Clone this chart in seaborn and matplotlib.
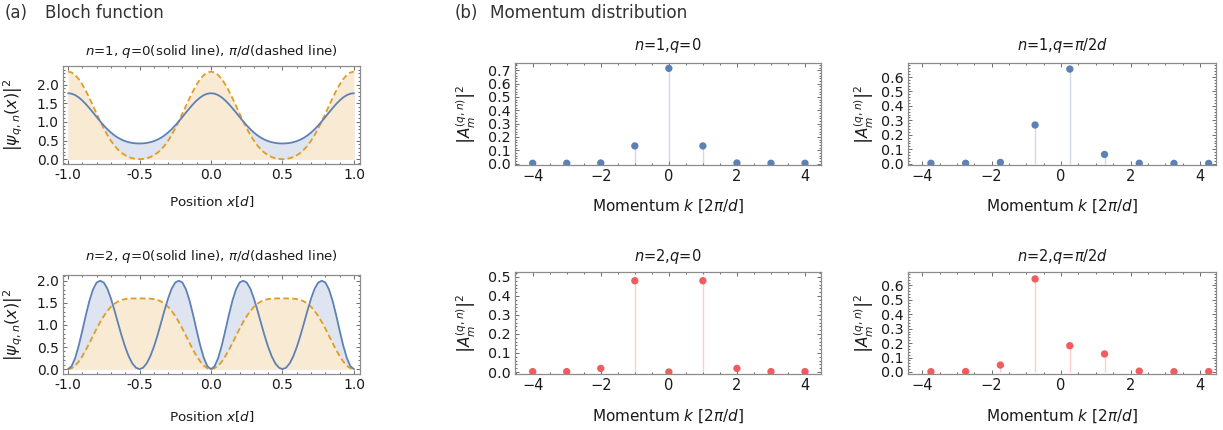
import numpy as np
import pandas as pd
import matplotlib
matplotlib.use("Agg")
import matplotlib.pyplot as plt
import seaborn as sns
from matplotlib.ticker import MultipleLocator

# ---------------- data ----------------
x_pos = np.round(np.arange(-1.0, 1.0001, 0.025), 3)

psi_n1_q0 = [
    1.770, 1.757, 1.719, 1.657, 1.575, 1.477, 1.367, 1.251, 1.132, 1.015, 0.905, 0.804, 0.715, 0.638, 0.574, 0.523, 0.483, 0.454, 0.435, 0.424, 0.420,
    0.424, 0.435, 0.454, 0.483, 0.523, 0.574, 0.638, 0.715, 0.804, 0.905, 1.015, 1.132, 1.251, 1.367, 1.477, 1.575, 1.657, 1.719, 1.757, 1.770,
    1.757, 1.719, 1.657, 1.575, 1.477, 1.367, 1.251, 1.132, 1.015, 0.905, 0.804, 0.715, 0.638, 0.574, 0.523, 0.483, 0.454, 0.435, 0.424, 0.420,
    0.424, 0.435, 0.454, 0.483, 0.523, 0.574, 0.638, 0.715, 0.804, 0.905, 1.015, 1.132, 1.251, 1.367, 1.477, 1.575, 1.657, 1.719, 1.757, 1.770]

psi_n1_qpi = [
    2.350, 2.327, 2.259, 2.150, 2.005, 1.831, 1.637, 1.431, 1.222, 1.017, 0.825, 0.650, 0.495, 0.364, 0.255, 0.169, 0.104, 0.056, 0.024, 0.006, 0.000,
    0.006, 0.024, 0.056, 0.104, 0.169, 0.255, 0.364, 0.495, 0.650, 0.825, 1.017, 1.222, 1.431, 1.637, 1.831, 2.005, 2.150, 2.259, 2.327, 2.350,
    2.327, 2.259, 2.150, 2.005, 1.831, 1.637, 1.431, 1.222, 1.017, 0.825, 0.650, 0.495, 0.364, 0.255, 0.169, 0.104, 0.056, 0.024, 0.006, 0.000,
    0.006, 0.024, 0.056, 0.104, 0.169, 0.255, 0.364, 0.495, 0.650, 0.825, 1.017, 1.222, 1.431, 1.637, 1.831, 2.005, 2.150, 2.259, 2.327, 2.350]

psi_n2_q0 = [
    0.000, 0.065, 0.250, 0.530, 0.870, 1.225, 1.550, 1.805, 1.960, 2.000, 1.960, 1.822, 1.600, 1.330, 1.040, 0.755, 0.500, 0.287, 0.129, 0.033, 0.000,
    0.033, 0.129, 0.287, 0.500, 0.755, 1.040, 1.330, 1.600, 1.822, 1.960, 2.000, 1.960, 1.805, 1.550, 1.225, 0.870, 0.530, 0.250, 0.065, 0.000,
    0.065, 0.250, 0.530, 0.870, 1.225, 1.550, 1.805, 1.960, 2.000, 1.960, 1.822, 1.600, 1.330, 1.040, 0.755, 0.500, 0.287, 0.129, 0.033, 0.000,
    0.033, 0.129, 0.287, 0.500, 0.755, 1.040, 1.330, 1.600, 1.822, 1.960, 2.000, 1.960, 1.805, 1.550, 1.225, 0.870, 0.530, 0.250, 0.065, 0.000]

psi_n2_qpi = [
    0.000, 0.020, 0.077, 0.170, 0.291, 0.434, 0.592, 0.754, 0.915, 1.065, 1.200, 1.315, 1.409, 1.481, 1.532, 1.566, 1.585, 1.595, 1.599, 1.600, 1.600,
    1.600, 1.599, 1.595, 1.585, 1.566, 1.532, 1.481, 1.409, 1.315, 1.200, 1.065, 0.915, 0.754, 0.592, 0.434, 0.291, 0.170, 0.077, 0.020, 0.000,
    0.020, 0.077, 0.170, 0.291, 0.434, 0.592, 0.754, 0.915, 1.065, 1.200, 1.315, 1.409, 1.481, 1.532, 1.566, 1.585, 1.595, 1.599, 1.600, 1.600,
    1.600, 1.599, 1.595, 1.585, 1.566, 1.532, 1.481, 1.409, 1.315, 1.200, 1.065, 0.915, 0.754, 0.592, 0.434, 0.291, 0.170, 0.077, 0.020, 0.000]

k_q0 = [-4, -3, -2, -1, 0, 1, 2, 3, 4]
k_q_half = [-3.75, -2.75, -1.75, -0.75, 0.25, 1.25, 2.25, 3.25, 4.25]

A_n1_q0 = [0.003, 0.003, 0.005, 0.133, 0.715, 0.133, 0.005, 0.003, 0.003]
A_n1_q_half = [0.003, 0.003, 0.009, 0.268, 0.655, 0.064, 0.003, 0.002, 0.002]
A_n2_q0 = [0.002, 0.002, 0.019, 0.480, 0.000, 0.480, 0.019, 0.002, 0.002]
A_n2_q_half = [0.002, 0.003, 0.048, 0.645, 0.182, 0.125, 0.006, 0.002, 0.003]

left_yticks = [0.0, 0.5, 1.0, 1.5, 2.0]

titles_left = [r"$n$=1, $q$=0(solid line), $\pi/d$(dashed line)",
               r"$n$=2, $q$=0(solid line), $\pi/d$(dashed line)"]
titles_right = [r"$n$=1,$q$=0", r"$n$=1,$q$=$\pi$/2$d$",
                r"$n$=2,$q$=0", r"$n$=2,$q$=$\pi$/2$d$"]

# ---------------- style ----------------
sns.set_theme(style="ticks")
plt.rcParams["font.family"] = ["DejaVu Sans"]
plt.rcParams["mathtext.fontset"] = "dejavusans"

BLUE = "#5E81B5"
ORANGE = "#E19C24"
RED = "#F45A5E"
FRAME = "#8c8c8c"
TXT = "#1a1a1a"

W, H = 1223, 430
fig = plt.figure(figsize=(W / 100, H / 100), dpi=100)


def make_ax(l, t, r, b):
    return fig.add_axes([l / W, 1 - b / H, (r - l) / W, (b - t) / H])


def style_frame(ax, xmaj, xmin, ymaj, ymin, fs_y=10, fs_x=10):
    for s in ax.spines.values():
        s.set_color(FRAME)
        s.set_linewidth(0.9)
        s.set_visible(True)
    ax.xaxis.set_major_locator(MultipleLocator(xmaj))
    ax.xaxis.set_minor_locator(MultipleLocator(xmin))
    ax.yaxis.set_major_locator(MultipleLocator(ymaj))
    ax.yaxis.set_minor_locator(MultipleLocator(ymin))
    ax.tick_params(which="both", direction="in", top=True, right=True,
                   color="#555555", width=0.6)
    ax.tick_params(which="major", length=3.2, pad=3)
    ax.tick_params(which="minor", length=1.6)
    ax.tick_params(axis="y", labelsize=fs_y, labelcolor=TXT)
    ax.tick_params(axis="x", labelsize=fs_x, labelcolor=TXT)
    ax.grid(False)
    ax.set_facecolor("white")


# ---------------- Bloch function panels ----------------
left_boxes = [(63, 66, 360, 164), (63, 275, 360, 374)]
left_data = [(psi_n1_q0, psi_n1_qpi), (psi_n2_q0, psi_n2_qpi)]
left_ylims = [(-0.13, 2.50), (-0.11, 2.13)]
left_title_y = [1.153, 1.185]
left_xlabel_y = [-0.305, -0.35]

for i in range(2):
    ax = make_ax(*left_boxes[i])
    solid, dashed = left_data[i]
    df = pd.DataFrame({"x": x_pos, "solid": solid, "dashed": dashed})
    ax.fill_between(df["x"], 0, df["solid"], color=BLUE, alpha=0.2, lw=0, zorder=1)
    ax.fill_between(df["x"], 0, df["dashed"], color="#F9EBD3", lw=0, zorder=1.5)
    sns.lineplot(data=df, x="x", y="dashed", ax=ax, color=ORANGE, lw=1.3,
                 estimator=None, sort=False, zorder=3)
    ax.lines[-1].set_dashes([3.2, 1.8])
    sns.lineplot(data=df, x="x", y="solid", ax=ax, color=BLUE, lw=1.3,
                 estimator=None, sort=False, zorder=4)
    ax.set_xlim(-1.035, 1.042)
    ax.set_ylim(*left_ylims[i])
    style_frame(ax, 0.5, 0.1, 0.5, 0.1)
    ax.set_yticks(left_yticks)
    ax.xaxis.set_major_formatter(matplotlib.ticker.FormatStrFormatter("%.1f"))
    ax.yaxis.set_major_formatter(matplotlib.ticker.FormatStrFormatter("%.1f"))
    ax.set_xlabel(r"Position $x$[$d$]", fontsize=9.7, color=TXT)
    ax.xaxis.set_label_coords(0.5, left_xlabel_y[i])
    ax.set_ylabel(r"$\left|\psi_{q,n}(x)\right|^2$", fontsize=11.5, color=TXT)
    ax.yaxis.set_label_coords(-0.128, 0.5)
    ax.text(0.5, left_title_y[i], titles_left[i], transform=ax.transAxes,
            ha="center", va="center", fontsize=9.6, color=TXT)

# ---------------- Momentum distribution panels ----------------
right_boxes = [(515, 63, 821, 165), (908, 63, 1216, 165),
               (515, 272, 821, 374), (908, 272, 1216, 374)]
right_k = [k_q0, k_q_half, k_q0, k_q_half]
right_vals = [A_n1_q0, A_n1_q_half, A_n2_q0, A_n2_q_half]
right_colors = [BLUE, BLUE, RED, RED]
right_xlims = [(-4.52, 4.47), (-4.41, 4.46), (-4.52, 4.47), (-4.41, 4.46)]
right_ylims = [(-0.01, 0.755), (-0.009, 0.697), (-0.0105, 0.526), (-0.014, 0.693)]
right_title_y = [1.17, 1.17, 1.15, 1.15]
right_xlabel_y = [-0.315, -0.315, -0.33, -0.33]
right_ylabel_x = [-0.122, -0.105, -0.122, -0.105]

for i in range(4):
    ax = make_ax(*right_boxes[i])
    df = pd.DataFrame({"k": right_k[i], "A": right_vals[i]})
    ax.vlines(df["k"], 0, df["A"], color=right_colors[i], alpha=0.3, lw=1.0, zorder=2)
    sns.scatterplot(data=df, x="k", y="A", ax=ax, color=right_colors[i], s=28,
                    edgecolor="none", linewidth=0, zorder=3, legend=False)
    ax.set_xlim(*right_xlims[i])
    ax.set_ylim(*right_ylims[i])
    style_frame(ax, 2, 0.5, 0.1, 0.02, fs_y=10.3, fs_x=10.5)
    ax.yaxis.set_major_formatter(matplotlib.ticker.FormatStrFormatter("%.1f"))
    ax.set_xlabel(r"Momentum $k$ [2$\pi$/$d$]", fontsize=11, color=TXT)
    ax.xaxis.set_label_coords(0.5, right_xlabel_y[i])
    ax.set_ylabel(r"$\left|A_m^{(q,n)}\right|^2$", fontsize=11, color=TXT)
    ax.yaxis.set_label_coords(right_ylabel_x[i], 0.5)
    ax.text(0.5, right_title_y[i], titles_right[i], transform=ax.transAxes,
            ha="center", va="center", fontsize=10.5, color=TXT)

# ---------------- headers ----------------
fig.text(5 / W, 1 - 13 / H, "(a)", fontsize=12, color="#333333", va="center", ha="left")
fig.text(45 / W, 1 - 13 / H, "Bloch function", fontsize=12, color="#333333", va="center", ha="left")
fig.text(455 / W, 1 - 13 / H, "(b)", fontsize=12, color="#333333", va="center", ha="left")
fig.text(490 / W, 1 - 13 / H, "Momentum distribution", fontsize=12.2, color="#333333", va="center", ha="left")

fig.savefig("out.png", dpi=100, facecolor="white")
